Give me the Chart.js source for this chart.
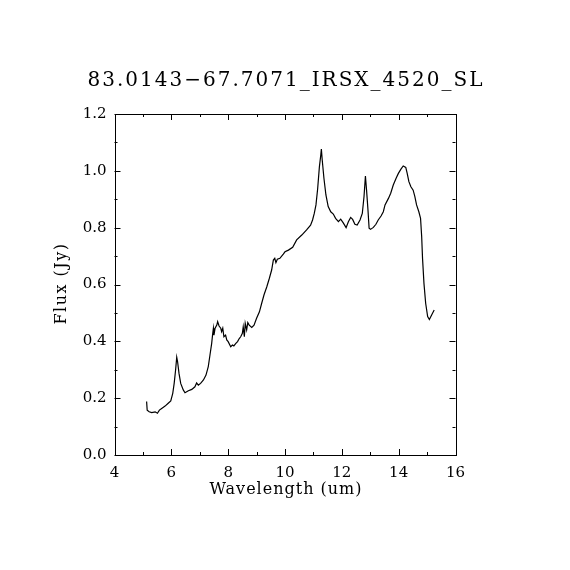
<!DOCTYPE html>
<html><head><meta charset="utf-8">
<script src="https://cdn.jsdelivr.net/npm/chart.js@4"></script>
<style>html,body{margin:0;padding:0;background:#fff}canvas{display:block}</style>
</head><body>
<canvas id="c" width="570" height="570"></canvas>
<script>
const chartTitle = "83.0143\u221267.7071_IRSX_4520_SL";
const xAxisTitle = "Wavelength (um)";
const yAxisTitle = "Flux (Jy)";
const wavelength = [5.13,5.15,5.22,5.31,5.43,5.51,5.58,5.66,5.78,5.89,5.98,6.05,6.10,6.15,6.19,6.22,6.27,6.33,6.42,6.48,6.60,6.72,6.83,6.89,6.95,7.03,7.13,7.22,7.30,7.36,7.42,7.45,7.48,7.50,7.54,7.60,7.63,7.68,7.74,7.77,7.81,7.85,7.91,7.95,8.00,8.09,8.15,8.20,8.27,8.33,8.39,8.44,8.50,8.53,8.57,8.60,8.65,8.69,8.74,8.83,8.91,9.00,9.10,9.18,9.26,9.36,9.45,9.53,9.59,9.64,9.68,9.73,9.82,9.94,10.00,10.12,10.27,10.41,10.59,10.76,10.90,10.97,11.03,11.09,11.15,11.21,11.26,11.28,11.31,11.37,11.44,11.52,11.61,11.70,11.78,11.88,11.96,12.05,12.15,12.23,12.31,12.38,12.46,12.54,12.64,12.72,12.78,12.83,12.87,12.92,12.96,13.01,13.11,13.20,13.28,13.38,13.46,13.52,13.64,13.72,13.81,13.91,13.99,14.08,14.16,14.25,14.30,14.36,14.43,14.51,14.57,14.63,14.71,14.77,14.81,14.84,14.89,14.95,15.02,15.08,15.16,15.25];
const flux = [0.188,0.158,0.152,0.149,0.152,0.147,0.158,0.164,0.172,0.182,0.190,0.217,0.252,0.299,0.344,0.328,0.287,0.252,0.229,0.219,0.226,0.231,0.240,0.254,0.246,0.252,0.264,0.281,0.311,0.352,0.393,0.422,0.446,0.422,0.446,0.457,0.469,0.454,0.446,0.434,0.446,0.416,0.422,0.405,0.399,0.381,0.387,0.384,0.393,0.399,0.410,0.416,0.428,0.451,0.416,0.463,0.440,0.466,0.457,0.449,0.457,0.481,0.504,0.534,0.563,0.592,0.622,0.651,0.686,0.692,0.677,0.689,0.692,0.707,0.715,0.721,0.731,0.757,0.774,0.792,0.809,0.827,0.850,0.880,0.938,1.014,1.056,1.077,1.038,0.974,0.915,0.874,0.856,0.848,0.833,0.821,0.830,0.817,0.800,0.821,0.836,0.829,0.812,0.809,0.827,0.850,0.909,0.982,0.932,0.862,0.798,0.794,0.801,0.812,0.827,0.841,0.856,0.880,0.903,0.921,0.950,0.974,0.991,1.006,1.017,1.012,0.991,0.962,0.944,0.932,0.909,0.880,0.856,0.833,0.768,0.692,0.604,0.534,0.487,0.477,0.493,0.510];
const xMajorTicks = [4,6,8,10,12,14,16];
const xMinorTicks = [5,7,9,11,13,15];
const yMajorTicks = [0,0.2,0.4,0.6,0.8,1.0,1.2];
const yMinorTicks = [0.1,0.3,0.5,0.7,0.9,1.1];

const FONT = "'DejaVu Serif', 'Liberation Serif', serif";
const points = wavelength.map((w,i)=>({x:w,y:flux[i]}));

const framePlugin = {
  id:'frame',
  afterDraw(chart){
    const ctx = chart.ctx, a = chart.chartArea, xs = chart.scales.x, ys = chart.scales.y;
    ctx.save();
    ctx.strokeStyle = '#000'; ctx.lineWidth = 1;
    ctx.strokeRect(Math.round(a.left)+0.5, Math.round(a.top)+0.5, Math.round(a.right-a.left), Math.round(a.bottom-a.top));
    ctx.beginPath();
    const tx = (v,len)=>{const p=Math.round(xs.getPixelForValue(v))+0.5; ctx.moveTo(p,a.bottom); ctx.lineTo(p,a.bottom-len); ctx.moveTo(p,a.top); ctx.lineTo(p,a.top+len);};
    const ty = (v,len)=>{const p=Math.round(ys.getPixelForValue(v))+0.5; ctx.moveTo(a.left,p); ctx.lineTo(a.left+len,p); ctx.moveTo(a.right,p); ctx.lineTo(a.right-len,p);};
    xMajorTicks.forEach(v=>tx(v,6)); xMinorTicks.forEach(v=>tx(v,3));
    yMajorTicks.forEach(v=>ty(v,6)); yMinorTicks.forEach(v=>ty(v,3));
    ctx.stroke();
    ctx.fillStyle = '#000';
    ctx.textAlign = 'center'; ctx.textBaseline = 'middle';
    ctx.font = "20px " + FONT;
    ctx.letterSpacing = '2px';
    ctx.fillText(chartTitle, (a.left+a.right)/2 + 1, 81);
    ctx.font = "16px " + FONT;
    ctx.letterSpacing = '1px';
    ctx.fillText(xAxisTitle, (a.left+a.right)/2 + 1, 490);
    ctx.save();
    ctx.translate(62, (a.top+a.bottom)/2);
    ctx.rotate(-Math.PI/2);
    ctx.letterSpacing = '1.5px';
    ctx.fillText(yAxisTitle, 1, 0);
    ctx.restore();
    ctx.restore();
  }
};

new Chart(document.getElementById('c'), {
  type:'line',
  data:{datasets:[{data:points, borderColor:'#000', borderWidth:1.2, pointRadius:0, tension:0, fill:false}]},
  options:{
    responsive:false, animation:false,
    layout:{padding:{top:114, right:114.5, left:0, bottom:0}},
    plugins:{legend:{display:false}, tooltip:{enabled:false}, title:{display:false}},
    scales:{
      x:{type:'linear', min:4, max:16,
        afterFit(s){s.height=115;},
        afterBuildTicks(s){s.ticks = xMajorTicks.map(v=>({value:v}));},
        grid:{display:false, drawTicks:false}, border:{display:false},
        ticks:{color:'#000', padding:9, font:{family:FONT, size:15}, maxRotation:0, callback:v=>String(v)},
        title:{display:false}
      },
      y:{type:'linear', min:0, max:1.2,
        afterFit(s){s.width=114.5;},
        afterBuildTicks(s){s.ticks = yMajorTicks.map(v=>({value:v}));},
        grid:{display:false, drawTicks:false}, border:{display:false},
        ticks:{color:'#000', padding:8, font:{family:FONT, size:15}, callback:v=>Number(v).toFixed(1)},
        title:{display:false}
      }
    }
  },
  plugins:[framePlugin]
});
</script>
</body></html>
